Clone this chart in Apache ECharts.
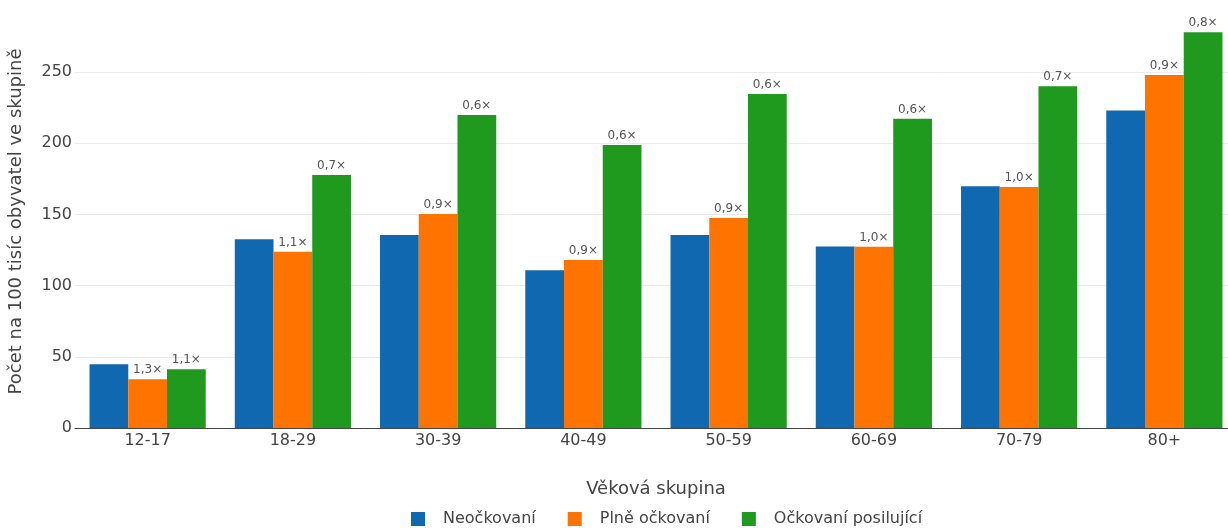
<!DOCTYPE html>
<html><head><meta charset="utf-8">
<script src="https://cdn.jsdelivr.net/npm/echarts@6/dist/echarts.min.js"></script>
<style>html,body{margin:0;padding:0;background:#fff}#c{width:1228px;height:531px}</style>
</head><body><div id="c"></div>
<script>
const categories = ['12-17','18-29','30-39','40-49','50-59','60-69','70-79','80+'];
const unvaccinated = [44.7, 132.5, 135.5, 110.7, 135.5, 127.5, 169.7, 223.0];
const fullyVaccinated = [34.2, 123.8, 150.3, 117.9, 147.4, 127.3, 169.3, 247.9];
const booster = [41.2, 177.7, 219.8, 198.7, 234.5, 217.2, 239.9, 277.8];
const fullyLabels = ['1,3×','1,1×','0,9×','0,9×','0,9×','1,0×','1,0×','0,9×'];
const boosterLabels = ['1,1×','0,7×','0,6×','0,6×','0,6×','0,6×','0,7×','0,8×'];
const yTicks = [0, 50, 100, 150, 200, 250];

const font = 'DejaVu Sans, Verdana, sans-serif';
const chart = echarts.init(document.getElementById('c'), null, {renderer:'canvas'});
const lbl = (arr) => ({show:true, position:'top', distance:3, color:'#555', fontFamily:font, fontSize:12,
  formatter: p => arr[p.dataIndex]});
chart.setOption({
  animation:false,
  textStyle:{fontFamily:font},
  grid:{left:75, top:15, width:1162, height:413, containLabel:false, outerBoundsMode:'none'},
  legend:{top:506, left:406, itemWidth:14, itemHeight:14, itemGap:32, icon:'rect',
    textStyle:{color:'#444', fontSize:16, fontFamily:font, padding:[0,0,0,13]},
    data:['Neočkovaní','Plně očkovaní','Očkovaní posilující']},
  xAxis:{type:'category', data:categories, name:'Věková skupina', nameLocation:'middle', nameGap:52,
    nameTextStyle:{color:'#444', fontSize:18, fontFamily:font},
    axisLine:{lineStyle:{color:'#444', width:1}}, axisTick:{show:false},
    axisLabel:{color:'#444', fontSize:16, fontFamily:font, margin:5}},
  yAxis:{type:'value', min:0, max:290, interval:50,
    name:'Počet na 100 tisíc obyvatel ve skupině', nameLocation:'middle', nameGap:50,
    nameTextStyle:{color:'#444', fontSize:18, fontFamily:font},
    axisLine:{show:false}, axisTick:{show:false},
    axisLabel:{color:'#444', fontSize:16, fontFamily:font, margin:3, showMaxLabel:false,
      formatter: v => yTicks.includes(v) ? String(v) : ''},
    splitLine:{show:false}},
  series:[
    {name:'Neočkovaní', type:'bar', data:unvaccinated, itemStyle:{color:'#1068B0'}, barGap:'0%', barCategoryGap:'20%', z:3,
      markLine:{silent:true, symbol:'none', label:{show:false}, animation:false, z:1,
        lineStyle:{color:'#ebebeb', type:'solid', width:1},
        data: yTicks.filter(v => v > 0).map(v => ({yAxis:v}))}},
    {name:'Plně očkovaní', type:'bar', data:fullyVaccinated, itemStyle:{color:'#FF7300'}, label:lbl(fullyLabels), z:3},
    {name:'Očkovaní posilující', type:'bar', data:booster, itemStyle:{color:'#1F9A1F'}, label:lbl(boosterLabels), z:3}
  ]
});
</script></body></html>
